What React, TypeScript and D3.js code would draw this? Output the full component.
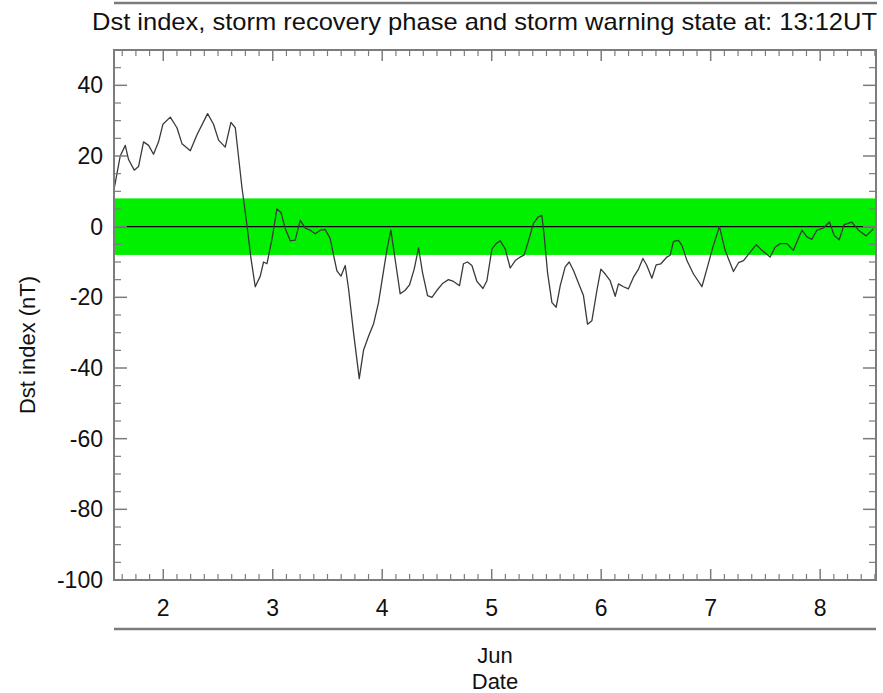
import { useMemo } from 'react';
import * as d3 from 'd3';

// chart size = the window
const width = 883;
const height = 693;
const margin = { top: 50, right: 7, bottom: 113, left: 114 };
const innerWidth = width - margin.left - margin.right;
const innerHeight = height - margin.top - margin.bottom;

const titleText = 'Dst index, storm recovery phase and storm warning state at: 13:12UT';
const yLabel = 'Dst index (nT)';
const monthLabel = 'Jun';
const xLabel = 'Date';

// days of June shown on the axis
const dayTicks = [2, 3, 4, 5, 6, 7, 8];
const yTicks = [40, 20, 0, -20, -40, -60, -80, -100];
// quiet band (nT)
const bandLimits = [8, -8];

// Dst readings: time as day of June, value in nT
const dstDay = [
  1.553, 1.583, 1.607, 1.653, 1.683, 1.735, 1.774, 1.82, 1.866, 1.911, 1.957, 1.997,
  2.064, 2.125, 2.171, 2.247, 2.308, 2.405, 2.459, 2.505, 2.566, 2.618, 2.658, 2.719,
  2.764, 2.801, 2.84, 2.886, 2.916, 2.947, 2.993, 3.038, 3.075, 3.114, 3.16, 3.205,
  3.251, 3.297, 3.342, 3.388, 3.434, 3.479, 3.525, 3.555, 3.586, 3.623, 3.662, 3.692,
  3.738, 3.79, 3.829, 3.875, 3.921, 3.966, 4.012, 4.043, 4.079, 4.119, 4.164, 4.21,
  4.249, 4.292, 4.332, 4.368, 4.414, 4.454, 4.5, 4.554, 4.605, 4.651, 4.706, 4.742,
  4.779, 4.819, 4.865, 4.92, 4.956, 5.002, 5.041, 5.078, 5.123, 5.169, 5.215, 5.26,
  5.297, 5.336, 5.382, 5.427, 5.458, 5.479, 5.51, 5.55, 5.589, 5.626, 5.671, 5.708,
  5.747, 5.793, 5.838, 5.875, 5.915, 5.961, 5.997, 6.037, 6.082, 6.128, 6.158, 6.204,
  6.249, 6.295, 6.341, 6.381, 6.417, 6.463, 6.502, 6.545, 6.6, 6.63, 6.66, 6.706,
  6.737, 6.783, 6.843, 6.92, 6.965, 7.02, 7.08, 7.132, 7.208, 7.254, 7.3, 7.361,
  7.416, 7.468, 7.543, 7.589, 7.635, 7.696, 7.756, 7.833, 7.879, 7.924, 7.97, 8.03,
  8.085, 8.128, 8.174, 8.219, 8.289, 8.35, 8.42, 8.487,
];
const dstNT = [
  11, 16, 20, 23, 19, 16, 17, 24, 23, 20.5, 24, 29,
  31, 28, 23.5, 21.5, 26, 32, 29, 24.5, 22.5, 29.5, 28, 11,
  0.5, -9, -17, -14, -10, -10.5, -3.5, 5, 4, -0.5, -4, -3.8,
  1.8, -0.4, -1, -2, -1, -0.8, -3.4, -8, -12.5, -14, -11, -17.5,
  -30, -43, -35, -31, -27.5, -21.5, -12.5, -6.5, -1, -9.5, -19, -18,
  -16.5, -12, -6, -13, -19.5, -20, -18, -16, -15, -15.5, -16.7, -10.5,
  -10, -11, -15.5, -17.5, -15.3, -6.3, -4.8, -4, -6.3, -11.7, -9.6, -8.6,
  -8, -4, 1, 2.8, 3.2, -2.5, -13, -21.5, -22.8, -16.7, -11.4, -10,
  -12.4, -16, -19.5, -27.6, -26.6, -18, -12, -13.4, -15.3, -19.7, -16.2, -17,
  -17.6, -14.3, -12, -9, -11, -14.6, -10.8, -10.5, -8.6, -8.1, -4.2, -3.9,
  -5.3, -9.6, -13.4, -17, -12, -5.8, 0, -6.7, -12.7, -10.2, -9.6, -7.2,
  -5.1, -6.7, -8.6, -5.8, -4.8, -4.8, -6.7, -1, -2.9, -3.6, -1, -0.4,
  1.3, -2.5, -3.7, 0.6, 1.3, -1, -2.6, -0.6,
];

const frameColor = '#7c7c7c';
const fontFamily = '"Liberation Sans", Arial, Helvetica, sans-serif';

const App = () => {
  const x = useMemo(() => d3.scaleLinear().domain([1.55, 8.51]).range([0, innerWidth]), []);
  const y = useMemo(() => d3.scaleLinear().domain([-100, 50]).range([innerHeight, 0]), []);

  const points: [number, number][] = dstDay.map((d, i) => [d, dstNT[i]]);
  const line = d3.line<[number, number]>()
    .x(d => x(d[0]))
    .y(d => y(d[1]))
    .curve(d3.curveLinear);

  // minor ticks every 3 hours, every 5 nT
  const xMinor = d3.range(1.625, 8.51, 0.125).filter(d => Math.abs(d - Math.round(d)) > 0.01);
  const yMinor = d3.range(-95, 50, 5).filter(v => v % 20 !== 0);

  return (
    <div style={{ position: 'fixed', left: 0, top: 0 }}>
      <svg width={width} height={height} style={{ display: 'block', background: '#fff' }} fontFamily={fontFamily}>
        {/* heading rule and title */}
        <line x1={margin.left} x2={width - margin.right + 1} y1={3} y2={3} stroke={frameColor} strokeWidth={2.5} />
        <text x={92} y={30} fontSize={24} textLength={785} lengthAdjust="spacingAndGlyphs" fill="#111">
          {titleText}
        </text>

        <g transform={`translate(${margin.left},${margin.top})`}>
          {/* quiet band */}
          <rect x={0} width={innerWidth} y={y(bandLimits[0])} height={y(bandLimits[1]) - y(bandLimits[0])} fill="#00f000" />
          <line x1={0} x2={innerWidth} y1={y(0)} y2={y(0)} stroke="#000" strokeWidth={1.2} />

          <path d={line(points) ?? ''} fill="none" stroke="#3a3a3a" strokeWidth={1.3} strokeLinejoin="round" />

          {/* frame */}
          <rect x={0} y={0} width={innerWidth} height={innerHeight} fill="none" stroke={frameColor} strokeWidth={2} />

          {/* x ticks, bottom and top */}
          {dayTicks.map(d => (
            <g key={'xd' + d}>
              <line x1={x(d)} x2={x(d)} y1={innerHeight} y2={innerHeight - 11} stroke={frameColor} strokeWidth={1.5} />
              <line x1={x(d)} x2={x(d)} y1={0} y2={11} stroke={frameColor} strokeWidth={1.5} />
              <text x={x(d)} y={innerHeight + 36} textAnchor="middle" fontSize={23} fill="#111">{d}</text>
            </g>
          ))}
          {xMinor.map(d => (
            <g key={'xm' + d}>
              <line x1={x(d)} x2={x(d)} y1={innerHeight} y2={innerHeight - 6} stroke={frameColor} strokeWidth={1.2} />
              <line x1={x(d)} x2={x(d)} y1={0} y2={6} stroke={frameColor} strokeWidth={1.2} />
            </g>
          ))}

          {/* y ticks, left and right */}
          {yTicks.map(v => (
            <g key={'yt' + v}>
              <line x1={0} x2={13} y1={y(v)} y2={y(v)} stroke={frameColor} strokeWidth={1.5} />
              <line x1={innerWidth} x2={innerWidth - 13} y1={y(v)} y2={y(v)} stroke={frameColor} strokeWidth={1.5} />
              <text x={-11} y={y(v) + 8} textAnchor="end" fontSize={23} fill="#111">{v}</text>
            </g>
          ))}
          {yMinor.map(v => (
            <g key={'ym' + v}>
              <line x1={0} x2={7} y1={y(v)} y2={y(v)} stroke={frameColor} strokeWidth={1.2} />
              <line x1={innerWidth} x2={innerWidth - 7} y1={y(v)} y2={y(v)} stroke={frameColor} strokeWidth={1.2} />
            </g>
          ))}

          {/* lower rule and axis titles */}
          <line x1={0} x2={innerWidth} y1={innerHeight + 49} y2={innerHeight + 49} stroke={frameColor} strokeWidth={2.5} />
          <text x={innerWidth / 2} y={innerHeight + 83} textAnchor="middle" fontSize={22} fill="#111">{monthLabel}</text>
          <text x={innerWidth / 2} y={innerHeight + 109} textAnchor="middle" fontSize={22} fill="#111">{xLabel}</text>
        </g>

        <text transform={`translate(35,${margin.top + innerHeight / 2 + 30}) rotate(-90)`} textAnchor="middle" fontSize={22} fill="#111">
          {yLabel}
        </text>
      </svg>
    </div>
  );
};

export default App;
